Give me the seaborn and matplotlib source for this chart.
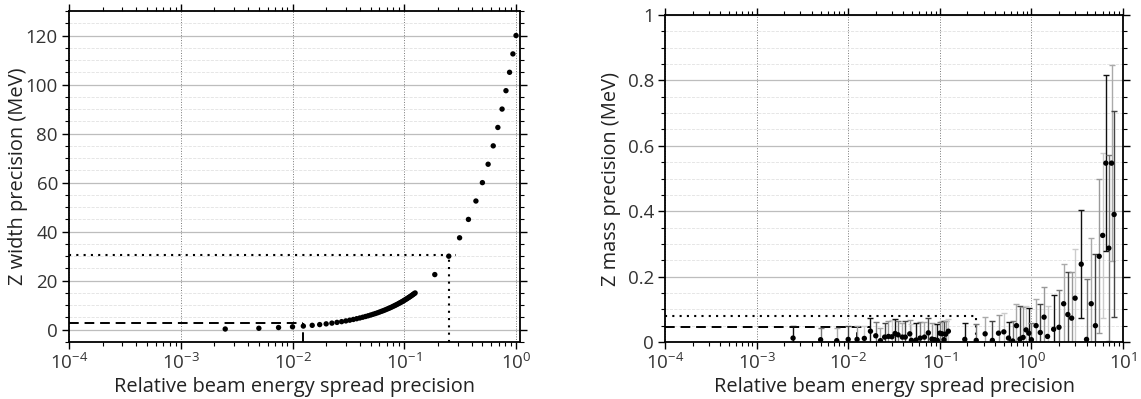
import numpy as np
import matplotlib
matplotlib.use('Agg')
import matplotlib.pyplot as plt
import seaborn as sns
from matplotlib.ticker import MultipleLocator, FormatStrFormatter, LogLocator, NullFormatter

sns.set_style('ticks')
plt.rcParams['font.family'] = ['Open Sans', 'DejaVu Sans']
plt.rcParams['mathtext.default'] = 'regular'

# Z width precision vs relative beam energy spread precision
width_x = [0.0025, 0.005, 0.0075, 0.01,
           0.0125, 0.015, 0.0175, 0.02, 0.0225, 0.025, 0.0275, 0.03, 0.0325, 0.035,
           0.0375, 0.04, 0.0425, 0.045, 0.0475, 0.05, 0.0525, 0.055, 0.0575, 0.06,
           0.0625, 0.065, 0.0675, 0.07, 0.0725, 0.075, 0.0775, 0.08, 0.0825, 0.085,
           0.0875, 0.09, 0.0925, 0.095, 0.0975, 0.1, 0.1025, 0.105, 0.1075, 0.11,
           0.1125, 0.115, 0.1175, 0.12, 0.1225, 0.125,
           0.1875, 0.25, 0.3125, 0.375, 0.4375, 0.5, 0.5625, 0.625, 0.6875, 0.75,
           0.8125, 0.875, 0.9375, 1.0]
width_y = [0.3, 0.6, 0.9, 1.2,
           1.5, 1.8, 2.1, 2.4, 2.7, 3.0, 3.3, 3.6, 3.9, 4.2,
           4.5, 4.8, 5.1, 5.4, 5.7, 6.0, 6.3, 6.6, 6.9, 7.2,
           7.5, 7.8, 8.1, 8.4, 8.7, 9.0, 9.3, 9.6, 9.9, 10.2,
           10.5, 10.8, 11.1, 11.4, 11.7, 12.0, 12.3, 12.6, 12.9, 13.2,
           13.5, 13.8, 14.1, 14.4, 14.7, 15.0,
           22.5, 30.0, 37.5, 45.0, 52.5, 60.0, 67.5, 75.0, 82.5, 90.0,
           97.5, 105.0, 112.5, 120.0]

# Z mass precision with uncertainties
mass_x = [0.0025, 0.005, 0.0075, 0.01, 0.0125, 0.015, 0.0175, 0.02, 0.0225, 0.025,
          0.0275, 0.03, 0.0325, 0.035, 0.039, 0.042, 0.047, 0.049, 0.055, 0.061,
          0.068, 0.075, 0.082, 0.088, 0.094, 0.1, 0.106, 0.111, 0.116, 0.124,
          0.1875, 0.25, 0.3125, 0.375, 0.4375, 0.5, 0.5625, 0.625, 0.6875, 0.75,
          0.8125, 0.875, 0.9375, 1.0, 1.125, 1.25, 1.375, 1.5, 1.75, 2.0,
          2.25, 2.5, 2.75, 3.0, 3.5, 4.0, 4.5, 5.0, 5.5, 6.0,
          6.5, 7.0, 7.5, 8.0]
mass_y = [0.012, 0.007, 0.004, 0.008, 0.008, 0.011, 0.033, 0.019, 0.004, 0.015,
          0.017, 0.016, 0.026, 0.022, 0.015, 0.015, 0.025, 0.005, 0.006, 0.012,
          0.015, 0.028, 0.009, 0.007, 0.005, 0.027, 0.025, 0.007, 0.024, 0.033,
          0.008, 0.005, 0.025, 0.005, 0.027, 0.031, 0.012, 0.003, 0.05, 0.009,
          0.014, 0.037, 0.027, 0.007, 0.05, 0.029, 0.076, 0.017, 0.039, 0.045,
          0.117, 0.084, 0.073, 0.134, 0.238, 0.008, 0.117, 0.05, 0.262, 0.326,
          0.547, 0.287, 0.547, 0.39]
mass_err = [0.036, 0.037, 0.04, 0.04, 0.04, 0.037, 0.039, 0.042, 0.04, 0.043,
            0.046, 0.051, 0.043, 0.042, 0.043, 0.049, 0.041, 0.049, 0.052, 0.049,
            0.046, 0.045, 0.049, 0.047, 0.05, 0.034, 0.04, 0.058, 0.04, 0.038,
            0.05, 0.05, 0.052, 0.059, 0.056, 0.059, 0.05, 0.06, 0.067, 0.1,
            0.093, 0.074, 0.076, 0.051, 0.083, 0.088, 0.091, 0.094, 0.105, 0.113,
            0.123, 0.13, 0.141, 0.149, 0.166, 0.186, 0.202, 0.22, 0.236, 0.252,
            0.268, 0.285, 0.3, 0.315]

# reference levels
width_dash_y, width_dash_x = 2.7, 0.0125
width_dot_y, width_dot_x, width_dot_end = 30.3, 0.25, 0.29
mass_dash_y, mass_dash_x, mass_dash_end = 0.047, 0.0125, 0.0175
mass_dot_y, mass_dot_x = 0.078, 0.25

err_colors = ['#111111', '#777777', '#aaaaaa', '#444444', '#999999', '#cccccc']


def style_axes(ax):
    ax.set_xscale('log')
    ax.set_axisbelow(True)
    ax.grid(True, which='major', axis='x', linestyle=':', color='#777777', linewidth=0.7)
    ax.grid(True, which='major', axis='y', linestyle='-', color='#bdbdbd', linewidth=0.9)
    ax.grid(True, which='minor', axis='y', linestyle='--', color='#e2e2e2', linewidth=0.6)
    ax.xaxis.set_major_locator(LogLocator(base=10, numticks=20))
    ax.xaxis.set_minor_locator(LogLocator(base=10, subs=np.arange(2, 10), numticks=20))
    ax.xaxis.set_minor_formatter(NullFormatter())
    ax.tick_params(which='both', direction='out', top=True, right=True,
                   labelsize=13.5, labelcolor='#333333', color='black')
    ax.tick_params(which='major', length=5, width=1.0, pad=3)
    ax.tick_params(which='minor', length=3, width=0.8)
    for s in ax.spines.values():
        s.set_linewidth(1.3)
        s.set_color('black')


fig = plt.figure(figsize=(11.41, 3.99), dpi=100)
ax1 = fig.add_axes([69 / 1141, 57 / 399, 451 / 1141, 331 / 399])
ax2 = fig.add_axes([665 / 1141, 57 / 399, 458 / 1141, 327 / 399])

# ---- left panel
style_axes(ax1)
ax1.set_xlim(1e-4, 1.085)
ax1.set_ylim(-5, 130)
ax1.yaxis.set_major_locator(MultipleLocator(20))
ax1.yaxis.set_minor_locator(MultipleLocator(5))
ax1.plot([1e-4, width_dash_x], [width_dash_y, width_dash_y], color='black', ls=(0, (5, 3)), lw=1.4, zorder=2)
ax1.plot([width_dash_x, width_dash_x], [-5, width_dash_y], color='black', ls=(0, (5, 3)), lw=1.4, zorder=2)
ax1.plot([1e-4, width_dot_end], [width_dot_y, width_dot_y], color='black', ls=(0, (1, 2.5)), lw=1.5, zorder=2)
ax1.plot([width_dot_x, width_dot_x], [-5, width_dot_y], color='black', ls=(0, (1, 2.5)), lw=1.5, zorder=2)
sns.scatterplot(x=width_x, y=width_y, ax=ax1, color='black', s=15, edgecolor='none', zorder=3)
ax1.set_xlabel('Relative beam energy spread precision', fontsize=14.4, color='#222222', labelpad=3)
ax1.set_ylabel('Z width precision (MeV)', fontsize=14.4, color='#222222')
ax1.yaxis.set_label_coords(-0.092, 0.5)

# ---- right panel
style_axes(ax2)
ax2.set_xlim(1e-4, 10)
ax2.set_ylim(0, 1)
ax2.yaxis.set_major_locator(MultipleLocator(0.2))
ax2.yaxis.set_minor_locator(MultipleLocator(0.05))
ax2.yaxis.set_major_formatter(FormatStrFormatter('%g'))
ax2.plot([1e-4, mass_dash_end], [mass_dash_y, mass_dash_y], color='black', ls=(0, (5, 3)), lw=1.4, zorder=2)
ax2.plot([mass_dash_x, mass_dash_x], [0, mass_dash_y], color='black', ls=(0, (5, 3)), lw=1.4, zorder=2)
ax2.plot([1e-4, mass_dot_x], [mass_dot_y, mass_dot_y], color='black', ls=(0, (1, 2.5)), lw=1.5, zorder=2)
ax2.plot([mass_dot_x, mass_dot_x], [0, mass_dot_y], color='black', ls=(0, (1, 2.5)), lw=1.5, zorder=2)
for i, (xv, yv, ev) in enumerate(zip(mass_x, mass_y, mass_err)):
    ax2.errorbar(xv, yv, yerr=ev, fmt='none', ecolor=err_colors[i % len(err_colors)],
                 elinewidth=1.0, capsize=2.5, capthick=1.0, zorder=2.5)
sns.scatterplot(x=mass_x, y=mass_y, ax=ax2, color='black', s=15, edgecolor='none', zorder=3)
ax2.set_xlabel('Relative beam energy spread precision', fontsize=14.4, color='#222222', labelpad=3)
ax2.set_ylabel('Z mass precision (MeV)', fontsize=14.4, color='#222222')
ax2.yaxis.set_label_coords(-0.095, 0.5)

fig.savefig('out.png', dpi=100)
